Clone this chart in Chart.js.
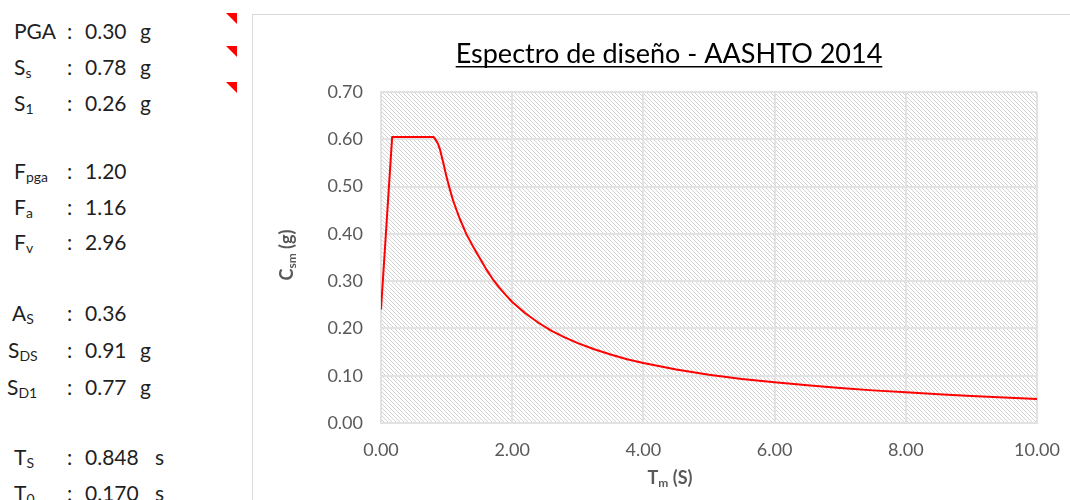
<!DOCTYPE html>
<html>
<head>
<meta charset="utf-8">
<script src="https://cdn.jsdelivr.net/npm/chart.js@4/dist/chart.umd.min.js"></script>
<style>
  body { margin: 0; width: 1070px; height: 500px; overflow: hidden; background: #fff; position: relative; font-family: Lato, "Open Sans", sans-serif; }
  .row { position: absolute; left: 0; height: 26px; line-height: 26px; font-size: 21px; color: #1f1f1f; white-space: nowrap; }
  .row span { position: absolute; top: 0; }
  .row sub { font-size: 14px; vertical-align: -3px; line-height: 0; }
  .lbl { left: 14px; }
  .col { left: 67px; }
  .val { left: 85px; }
  .unit { left: 140px; }
  .tri { position: absolute; left: 226px; width: 0; height: 0; border-top: 11px solid #ff0000; border-left: 11px solid transparent; }
  #frame { position: absolute; left: 252px; top: 14px; width: 840px; height: 500px; border: 1px solid #d9d9d9; background: #fff; }
  #wrap { position: absolute; left: 0; top: 0; width: 830px; height: 485px; }
</style>
</head>
<body>
<div class="row" style="top:18px"><span class="lbl">PGA</span><span class="col">:</span><span class="val">0.30</span><span class="unit">g</span></div>
<div class="row" style="top:54px"><span class="lbl">S<sub>s</sub></span><span class="col">:</span><span class="val">0.78</span><span class="unit">g</span></div>
<div class="row" style="top:90px"><span class="lbl">S<sub>1</sub></span><span class="col">:</span><span class="val">0.26</span><span class="unit">g</span></div>
<div class="row" style="top:158px"><span class="lbl">F<sub>pga</sub></span><span class="col">:</span><span class="val">1.20</span></div>
<div class="row" style="top:194px"><span class="lbl">F<sub>a</sub></span><span class="col">:</span><span class="val">1.16</span></div>
<div class="row" style="top:229px"><span class="lbl">F<sub>v</sub></span><span class="col">:</span><span class="val">2.96</span></div>
<div class="row" style="top:300px"><span class="lbl" style="left:12px">A<sub>S</sub></span><span class="col">:</span><span class="val">0.36</span></div>
<div class="row" style="top:337px"><span class="lbl" style="left:8px">S<sub>DS</sub></span><span class="col">:</span><span class="val">0.91</span><span class="unit">g</span></div>
<div class="row" style="top:374px"><span class="lbl" style="left:7px">S<sub>D1</sub></span><span class="col">:</span><span class="val">0.77</span><span class="unit">g</span></div>
<div class="row" style="top:444px"><span class="lbl">T<sub>S</sub></span><span class="col">:</span><span class="val">0.848</span><span class="unit" style="left:155px">s</span></div>
<div class="row" style="top:480px"><span class="lbl">T<sub>0</sub></span><span class="col">:</span><span class="val">0.170</span><span class="unit" style="left:155px">s</span></div>
<div class="tri" style="top:13px"></div>
<div class="tri" style="top:46px"></div>
<div class="tri" style="top:82px"></div>

<div id="frame">
  <div id="wrap"><canvas id="chart"></canvas></div>
</div>

<script>
// periods T (s) and design spectrum Csm (g)
const periods = [0, 0.17, 0.80, 0.83, 0.87, 0.90, 0.95, 1.00, 1.05, 1.10, 1.20, 1.30, 1.40, 1.50, 1.60, 1.70, 1.80, 1.90, 2.00, 2.20, 2.40, 2.60, 2.80, 3.00, 3.25, 3.50, 3.75, 4.00, 4.50, 5.00, 5.50, 6.00, 6.50, 7.00, 7.50, 8.00, 8.50, 9.00, 9.50, 10.00];
const csm = [0.24, 0.605, 0.605, 0.600, 0.590, 0.578, 0.550, 0.520, 0.494, 0.470, 0.432, 0.400, 0.374, 0.350, 0.326, 0.305, 0.287, 0.271, 0.256, 0.232, 0.212, 0.195, 0.181, 0.169, 0.156, 0.145, 0.135, 0.127, 0.113, 0.102, 0.093, 0.086, 0.080, 0.074, 0.069, 0.065, 0.061, 0.057, 0.054, 0.051];

const xTicks = [0, 2, 4, 6, 8, 10];
const yTicks = [0, 0.1, 0.2, 0.3, 0.4, 0.5, 0.6, 0.7];

const titleText = 'Espectro de diseño - AASHTO 2014';

const points = periods.map((t, i) => ({ x: t, y: csm[i] }));

// diagonal hatch behind the plot area
function makeHatch() {
    const c = document.createElement('canvas');
    c.width = 4; c.height = 4;
    const g = c.getContext('2d');
    g.fillStyle = '#fff';
    g.fillRect(0, 0, 4, 4);
    g.fillStyle = '#d2d2d2';
    for (let i = 0; i < 4; i++) g.fillRect(i, i, 1, 1);
    return g.createPattern(c, 'repeat');
}

// text with a subscript part, drawn left to right from x
function subText(ctx, parts, x, y) {
    let cx = x;
    parts.forEach(p => {
        ctx.font = p.font;
        ctx.fillText(p.text, cx, y + (p.dy || 0));
        cx += ctx.measureText(p.text).width;
    });
}
function subWidth(ctx, parts) {
    let w = 0;
    parts.forEach(p => { ctx.font = p.font; w += ctx.measureText(p.text).width; });
    return w;
}

const decor = {
    id: 'decor',
    beforeDraw(chart) {
        const { ctx, chartArea: a } = chart;
        ctx.save();
        ctx.fillStyle = makeHatch();
        ctx.fillRect(a.left, a.top, a.right - a.left, a.bottom - a.top);
        ctx.restore();
    },
    afterDraw(chart) {
        const ctx = chart.ctx;
        ctx.save();
        // title, underlined
        ctx.font = '27px Lato, sans-serif';
        ctx.fillStyle = '#000';
        ctx.textBaseline = 'alphabetic';
        const tw = ctx.measureText(titleText).width;
        const tx = 416 - tw / 2;
        ctx.fillText(titleText, tx, 48);
        ctx.fillRect(tx, 51, tw, 1.5);

        ctx.fillStyle = '#595959';
        ctx.textBaseline = 'middle';
        // x axis title
        const xParts = [
            { text: 'T', font: 'bold 18px Lato, sans-serif' },
            { text: 'm', font: 'bold 12px Lato, sans-serif', dy: 5 },
            { text: ' (S)', font: 'bold 18px Lato, sans-serif' }
        ];
        subText(ctx, xParts, 417 - subWidth(ctx, xParts) / 2, 463);
        // y axis title, rotated
        const yParts = [
            { text: 'C', font: 'bold 18px Lato, sans-serif' },
            { text: 'sm', font: 'bold 12px Lato, sans-serif', dy: 5 },
            { text: ' (g)', font: 'bold 18px Lato, sans-serif' }
        ];
        ctx.translate(34, 240);
        ctx.rotate(-Math.PI / 2);
        subText(ctx, yParts, -subWidth(ctx, yParts) / 2, 0);
        ctx.restore();
    }
};

new Chart(document.getElementById('chart'), {
    type: 'line',
    data: {
        datasets: [{
            data: points,
            borderColor: '#ff0000',
            borderWidth: 2,
            borderJoinStyle: 'round',
            pointRadius: 0,
            fill: false,
            tension: 0
        }]
    },
    options: {
        responsive: true,
        maintainAspectRatio: false,
        animation: false,
        layout: { padding: { top: 77, right: 46, left: 0, bottom: 0 } },
        plugins: { legend: { display: false }, tooltip: { enabled: false }, title: { display: false } },
        scales: {
            x: {
                type: 'linear',
                min: 0,
                max: 10,
                afterBuildTicks: s => { s.ticks = xTicks.map(v => ({ value: v })); },
                afterFit: s => { s.height = 77; },
                grid: { color: '#e2e2e2', lineWidth: 2, drawTicks: false },
                border: { display: true, color: '#e2e2e2', width: 2 },
                ticks: {
                    padding: 16,
                    color: '#595959',
                    font: { family: 'Lato, sans-serif', size: 18 },
                    callback: v => v.toFixed(2)
                }
            },
            y: {
                min: 0,
                max: 0.7,
                afterBuildTicks: s => { s.ticks = yTicks.map(v => ({ value: v })); },
                afterFit: s => { s.width = 128; },
                grid: { color: '#e2e2e2', lineWidth: 2, drawTicks: false },
                border: { display: true, color: '#e2e2e2', width: 2 },
                ticks: {
                    padding: 18,
                    color: '#595959',
                    font: { family: 'Lato, sans-serif', size: 18 },
                    callback: v => v.toFixed(2)
                }
            }
        }
    },
    plugins: [decor]
});
</script>
</body>
</html>
